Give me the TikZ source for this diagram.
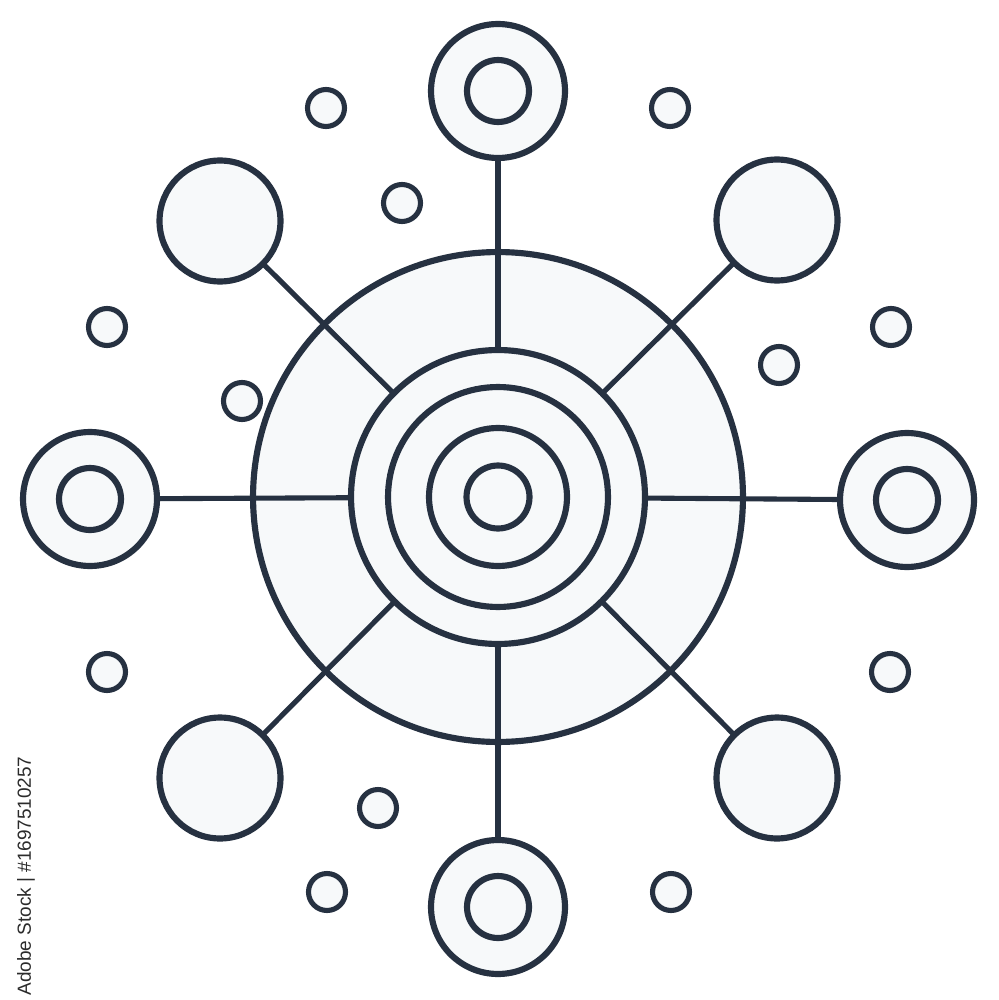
\documentclass[tikz,border=0pt]{standalone}
\usepackage{fontspec}
\setsansfont{Liberation Sans}
\usepackage{tikz}

\definecolor{granat}{HTML}{263141}
\definecolor{jasny}{HTML}{F7F9FA}
\definecolor{napis}{HTML}{2B2B2B}

\tikzset{
  kolo/.style={circle, draw=granat, fill=jasny, line width=3.5pt, inner sep=0pt, outer sep=0pt},
  kropka/.style={circle, draw=granat, fill=jasny, line width=2.9pt, inner sep=0pt, outer sep=0pt, minimum size=0.74cm},
  szprycha/.style={draw=granat, line width=2.9pt}
}

\begin{document}
\begin{tikzpicture}[x=0.02cm, y=-0.02cm]
  % tlo
  \fill[white] (0,0) rectangle (998,1000);
  \useasboundingbox (0,0) rectangle (998,1000);

  % tarcza i pierscienie
  \node[kolo, minimum size=9.8cm] (tarcza) at (498,497) {};
  \node[kolo, minimum size=5.88cm] (piasta) at (498,497) {};
  \node[kolo, minimum size=4.4cm] (pierscienA) at (piasta) {};
  \node[kolo, minimum size=2.76cm] (pierscienB) at (piasta) {};
  \node[kolo, minimum size=1.26cm] (srodek) at (piasta) {};

  % satelity z oczkiem
  \node[kolo, minimum size=2.68cm] (gora) at (498,91) {};
  \node[kolo, minimum size=1.24cm] (goraO) at (gora) {};
  \node[kolo, minimum size=2.68cm] (dol) at (498,907) {};
  \node[kolo, minimum size=1.24cm] (dolO) at (dol) {};
  \node[kolo, minimum size=2.68cm] (lewo) at (90,499) {};
  \node[kolo, minimum size=1.24cm] (lewoO) at (lewo) {};
  \node[kolo, minimum size=2.68cm] (prawo) at (907,500) {};
  \node[kolo, minimum size=1.24cm] (prawoO) at (prawo) {};

  % satelity puste
  \node[kolo, minimum size=2.42cm] (lg) at (220,221) {};
  \node[kolo, minimum size=2.42cm] (pg) at (777,220) {};
  \node[kolo, minimum size=2.42cm] (ld) at (220,778) {};
  \node[kolo, minimum size=2.42cm] (pd) at (777,778) {};

  % szprychy
  \foreach \s in {gora,dol,lewo,prawo,lg,pg,ld,pd}
    \draw[szprycha] (piasta) -- (\s);

  % kropki
  \foreach \x/\y [count=\i] in {326/108, 670/108, 402/203, 107/327, 891/327, 779/365,
                                242/401, 107/672, 890/672, 378/808, 327/892, 671/892}
    \node[kropka] (k\i) at (\x,\y) {};

  % stopka
  \node[rotate=90, font=\sffamily\fontsize{10.8}{12}\selectfont, text=napis] (stopka) at (26,876) {Adobe Stock | \#1697510257};
\end{tikzpicture}
\end{document}
